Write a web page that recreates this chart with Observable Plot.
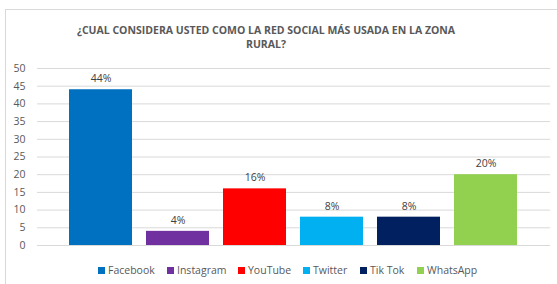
<!DOCTYPE html>
<html>
<head>
<meta charset="utf-8">
<script src="https://cdn.jsdelivr.net/npm/d3@7"></script>
<script src="https://cdn.jsdelivr.net/npm/@observablehq/plot@0.6"></script>
<style>
  html, body { margin: 0; padding: 0; background: #fff; }
  #wrap { position: relative; width: 557px; height: 284px; overflow: hidden; font-family: "Open Sans", "Liberation Sans", sans-serif; }
  #frame { position: absolute; left: 5px; top: 9px; width: 600px; height: 400px; border: 1px solid #d9d9d9; box-sizing: border-box; }
  #title { position: absolute; left: 66px; width: 400px; top: 23px; text-align: center; font-weight: bold; font-size: 10.5px; line-height: 14px; color: #595959; }
  #chart { position: absolute; left: 0; top: 55px; }
  #legend { position: absolute; left: 0; width: 557px; top: 263px; display: flex; justify-content: flex-start; font-size: 10.5px; color: #595959; }
  .item { display: flex; align-items: center; position: absolute; top: 0; white-space: nowrap; }
  .sw { width: 7px; height: 7px; margin-right: 3px; }
</style>
</head>
<body>
<div id="wrap">
  <div id="frame"></div>
  <div id="title">¿CUAL CONSIDERA USTED COMO LA RED SOCIAL MÁS USADA EN LA ZONA<br>RURAL?</div>
  <div id="chart"></div>
  <div id="legend"></div>
</div>
<script>
const categories = ["Facebook", "Instagram", "YouTube", "Twitter", "Tik Tok", "WhatsApp"];
const values = [44, 4, 16, 8, 8, 20];
const labels = ["44%", "4%", "16%", "8%", "8%", "20%"];
const colors = ["#0070C0", "#7030A0", "#FF0000", "#00B0F0", "#002060", "#92D050"];
const yTicks = [0, 5, 10, 15, 20, 25, 30, 35, 40, 45, 50];
const legendX = [98, 167, 238, 303, 360, 417];

const data = categories.map((c, i) => ({cat: c, value: values[i], label: labels[i]}));

const plot = Plot.plot({
  width: 557,
  height: 200,
  marginLeft: 37,
  marginRight: 7,
  marginTop: 13,
  marginBottom: 10,
  style: {fontFamily: "'Open Sans', 'Liberation Sans', sans-serif", fontSize: "10.5px", color: "#595959", background: "transparent"},
  x: {domain: categories, range: [60, 527], paddingInner: 0.18, paddingOuter: 0.09, axis: null},
  y: {domain: [0, 50], ticks: yTicks},
  color: {domain: categories, range: colors},
  marks: [
    Plot.ruleY(yTicks, {stroke: "#d9d9d9", strokeWidth: 1}),
    Plot.axisY({ticks: yTicks, tickSize: 0, tickPadding: 12, label: null, fill: "#595959"}),
    Plot.barY(data, {x: "cat", y: "value", fill: "cat", style: "filter: drop-shadow(1px 1px 1px rgba(0,0,0,0.25))"}),
    Plot.text(data, {x: "cat", y: "value", text: "label", dy: -11, fill: "#404040", fontSize: 10.5})
  ]
});
document.getElementById("chart").appendChild(plot);

const lg = document.getElementById("legend");
categories.forEach((c, i) => {
  const it = document.createElement("div");
  it.className = "item";
  it.style.left = legendX[i] + "px";
  const sw = document.createElement("span");
  sw.className = "sw";
  sw.style.background = colors[i];
  it.appendChild(sw);
  const t = document.createElement("span");
  t.textContent = c;
  it.appendChild(t);
  lg.appendChild(it);
});
</script>
</body>
</html>
